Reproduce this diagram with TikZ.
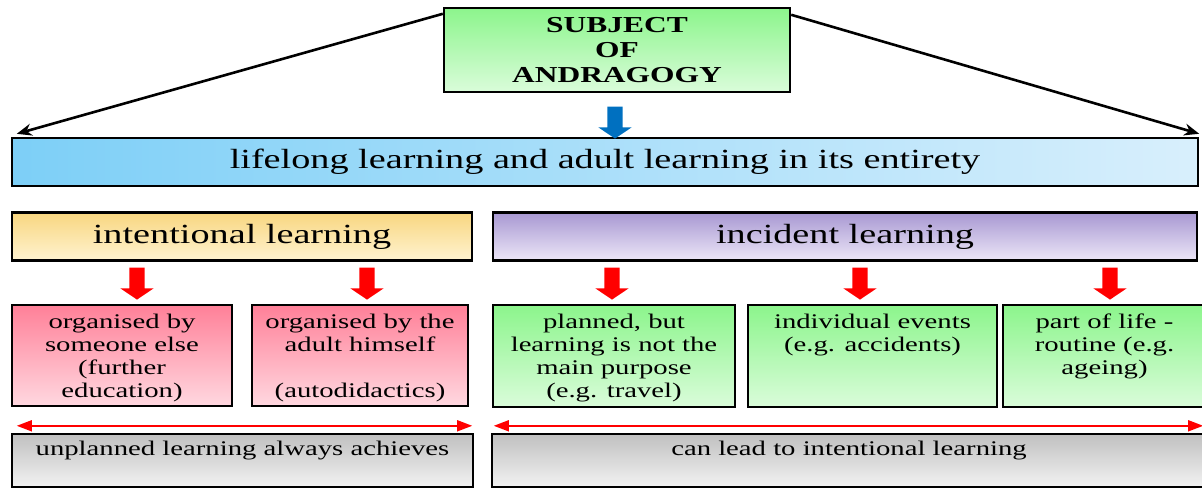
\documentclass[tikz,border=0pt]{standalone}
\usepackage{fontspec}
\setmainfont{Liberation Serif}[FakeStretch=1.38]
\usepackage{tikz}
\usetikzlibrary{arrows.meta,shapes.arrows}
\definecolor{greentop}{RGB}{140,245,140}
\definecolor{greenbot}{RGB}{218,252,218}
\definecolor{blueleft}{RGB}{125,207,247}
\definecolor{blueright}{RGB}{216,239,252}
\definecolor{orangetop}{RGB}{248,214,128}
\definecolor{orangebot}{RGB}{255,243,208}
\definecolor{purpletop}{RGB}{168,152,210}
\definecolor{purplebot}{RGB}{236,230,247}
\definecolor{pinktop}{RGB}{255,128,152}
\definecolor{pinkbot}{RGB}{255,216,224}
\definecolor{graytop}{RGB}{192,192,192}
\definecolor{graybot}{RGB}{242,242,242}
\definecolor{fatblue}{RGB}{0,112,192}

\begin{document}
\begin{tikzpicture}[
    x=1pt, y=-1pt,
    box/.style={draw, line width=2.4pt, inner sep=0pt},
    big/.style={font=\fontsize{27.7}{33}\selectfont},
    small/.style={font=\fontsize{20.8}{23}\selectfont, align=center, inner sep=0pt, anchor=north},
    fat/.style={single arrow, draw=none, rotate=-90, minimum height=32pt, inner sep=7.5pt, single arrow head extend=9pt, single arrow tip angle=112},
    link/.style={line width=2.6pt, -{Stealth[length=15pt,width=12pt]}},
    span/.style={red, line width=1.6pt, {Triangle[length=15pt,width=11pt]}-{Triangle[length=15pt,width=11pt]}}
    ]
    \useasboundingbox (0,0) rectangle (1202,489);
    \clip (0,0) rectangle (1202,489);
    \node[box, top color=greentop, bottom color=greenbot, minimum width=346pt, minimum height=84pt, align=center, font=\bfseries\fontsize{22.8}{25}\selectfont] (subj) at (617,50) {SUBJECT\\OF\\ANDRAGOGY};
    \node[box, big, left color=blueleft, right color=blueright, minimum width=1186pt, minimum height=48pt] (life) at (605,162) {lifelong learning and adult learning in its entirety};
    \node[box, big, top color=orangetop, bottom color=orangebot, minimum width=460pt, minimum height=48pt] (intent) at (242,236.5) {intentional learning};
    \node[box, big, top color=purpletop, bottom color=purplebot, minimum width=704pt, minimum height=48pt] (incid) at (845,236.5) {incident learning};
    \node[box, top color=pinktop, bottom color=pinkbot, minimum width=220pt, minimum height=101pt] (other) at (122,355.5) {};
    \node[box, top color=pinktop, bottom color=pinkbot, minimum width=216pt, minimum height=101pt] (self) at (360,355.5) {};
    \node[box, top color=greentop, bottom color=greenbot, minimum width=242pt, minimum height=102pt] (plan) at (614,356) {};
    \node[box, top color=greentop, bottom color=greenbot, minimum width=249pt, minimum height=102pt] (event) at (872.5,356) {};
    \node[box, top color=greentop, bottom color=greenbot, minimum width=203pt, minimum height=102pt] (routine) at (1104.5,356) {};
    \node[box, top color=graytop, bottom color=graybot, minimum width=461pt, minimum height=53pt] (always) at (242.5,460.5) {};
    \node[box, top color=graytop, bottom color=graybot, minimum width=714pt, minimum height=53pt] (lead) at (849,460.5) {};
    \node[small] (otherT) at ([yshift=-10pt]other.north) {organised by\\someone else\\(further\\education)};
    \node[small] (selfT) at ([yshift=-10pt]self.north) {organised by the\\adult himself\\[23pt](autodidactics)};
    \node[small] (planT) at ([yshift=-10pt]plan.north) {planned, but\\learning is not the\\main purpose\\(e.g. travel)};
    \node[small] (eventT) at ([yshift=-10pt]event.north) {individual events\\(e.g. accidents)};
    \node[small] (routineT) at ([yshift=-10pt]routine.north) {part of life -\\routine (e.g.\\ageing)};
    \node[small] (alwaysT) at ([yshift=-8pt]always.north) {unplanned learning always achieves};
    \node[small] (leadT) at ([yshift=-8pt]lead.north) {can lead to intentional learning};
    \node[fat, fill=fatblue] (down) at (615,120) {};
    \node[fat, fill=red] (down1) at (137,281) {};
    \node[fat, fill=red] (down2) at (367,281) {};
    \node[fat, fill=red] (down3) at (612,281) {};
    \node[fat, fill=red] (down4) at (860,281) {};
    \node[fat, fill=red] (down5) at (1110,281) {};
    \draw[link] ([yshift=-7pt]subj.north west) -- ([xshift=6pt,yshift=3pt]life.north west);
    \draw[link] ([yshift=-8pt]subj.north east) -- ([yshift=3pt]life.north east);
    \draw[span] ([xshift=6pt,yshift=7pt]always.north west) -- ([xshift=-2pt,yshift=7pt]always.north east);
    \draw[span] ([xshift=3pt,yshift=7pt]lead.north west) -- ([xshift=-4pt,yshift=7pt]lead.north east);
\end{tikzpicture}
\end{document}
